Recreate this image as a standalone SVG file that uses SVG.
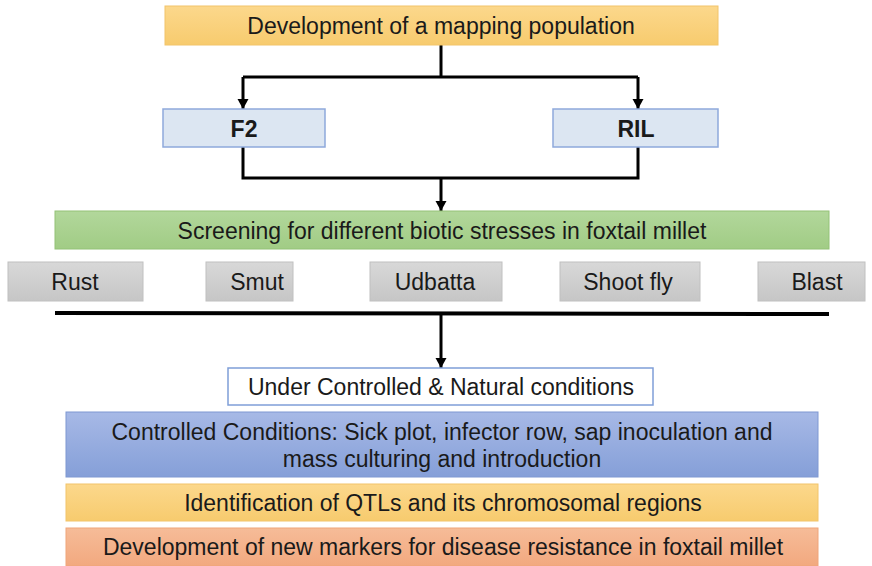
<svg xmlns="http://www.w3.org/2000/svg" width="872" height="566" viewBox="0 0 872 566">
  <defs>
    <linearGradient id="gOrange" x1="0" y1="0" x2="0" y2="1">
      <stop offset="0" stop-color="#FCD88C"/>
      <stop offset="1" stop-color="#F7CB6E"/>
    </linearGradient>
    <linearGradient id="gGreen" x1="0" y1="0" x2="0" y2="1">
      <stop offset="0" stop-color="#B2D79B"/>
      <stop offset="1" stop-color="#A1CC85"/>
    </linearGradient>
    <linearGradient id="gGray" x1="0" y1="0" x2="0" y2="1">
      <stop offset="0" stop-color="#D8D8D8"/>
      <stop offset="1" stop-color="#C6C6C6"/>
    </linearGradient>
    <linearGradient id="gBlue" x1="0" y1="0" x2="0" y2="1">
      <stop offset="0" stop-color="#A7B9E6"/>
      <stop offset="1" stop-color="#859FD8"/>
    </linearGradient>
    <linearGradient id="gSalmon" x1="0" y1="0" x2="0" y2="1">
      <stop offset="0" stop-color="#F6BC98"/>
      <stop offset="1" stop-color="#F2A97F"/>
    </linearGradient>
    <!-- filled triangular arrowhead, about 11px wide and 10px long at stroke 3 -->
    <marker id="arrow" viewBox="0 0 10 11" refX="10" refY="5.5" markerWidth="3.4" markerHeight="3.7" orient="auto" markerUnits="strokeWidth">
      <path d="M0,0 L10,5.5 L0,11 Z" fill="#000"/>
    </marker>
  </defs>
  <style>
    text { font-family: "Liberation Sans", Arial, sans-serif; font-size: 23px; fill: #1a1a1a; text-anchor: middle; dominant-baseline: central; }
    .bold { font-weight: bold; }
    .line { fill: none; stroke: #000; stroke-width: 3; }
    .rule { fill: none; stroke: #000; stroke-width: 4; }
    .orange { fill: url(#gOrange); stroke: #F2C46A; stroke-width: 1; }
    .pop { fill: #DCE6F2; stroke: #8EA9DB; stroke-width: 1.5; }
    .green { fill: url(#gGreen); stroke: #93C277; stroke-width: 1; }
    .gray { fill: url(#gGray); stroke: #C0C0C0; stroke-width: 1; }
    .white { fill: #FFFFFF; stroke: #7F9ED8; stroke-width: 1.5; }
    .blue { fill: url(#gBlue); stroke: #7E98D2; stroke-width: 1; }
    .salmon { fill: url(#gSalmon); stroke: #EFA57B; stroke-width: 1; }
  </style>

  <rect width="872" height="566" fill="#FFFFFF"/>

  <!-- connectors -->
  <g id="connectors">
    <path class="line" d="M441,45 V77"/>
    <path class="line" d="M243,77 H638"/>
    <path class="line" d="M243,77 V109" marker-end="url(#arrow)"/>
    <path class="line" d="M638,77 V109" marker-end="url(#arrow)"/>
    <path class="line" d="M243,147 V178 H638 V147"/>
    <path class="line" d="M441,178 V211" marker-end="url(#arrow)"/>
    <path class="rule" d="M55,313 L829,314"/>
    <path class="line" d="M441,314 V368" marker-end="url(#arrow)"/>
  </g>

  <g id="mapping-population">
    <rect class="orange" x="165" y="6" width="553" height="39"/>
    <text x="441" y="26">Development of a mapping population</text>
  </g>

  <g id="f2">
    <rect class="pop" x="163" y="109" width="162" height="38"/>
    <text class="bold" x="244" y="129">F2</text>
  </g>

  <g id="ril">
    <rect class="pop" x="553" y="109" width="165" height="38"/>
    <text class="bold" x="636" y="129">RIL</text>
  </g>

  <g id="screening">
    <rect class="green" x="55" y="211" width="774" height="38"/>
    <text x="442" y="231">Screening for different biotic stresses in foxtail millet</text>
  </g>

  <g id="rust">
    <rect class="gray" x="8" y="262" width="135" height="39"/>
    <text x="75" y="282">Rust</text>
  </g>
  <g id="smut">
    <rect class="gray" x="206" y="262" width="87" height="39"/>
    <text x="257" y="282">Smut</text>
  </g>
  <g id="udbatta">
    <rect class="gray" x="370" y="262" width="132" height="39"/>
    <text x="435" y="282">Udbatta</text>
  </g>
  <g id="shoot-fly">
    <rect class="gray" x="560" y="262" width="140" height="39"/>
    <text x="628" y="282">Shoot fly</text>
  </g>
  <g id="blast">
    <rect class="gray" x="758" y="262" width="107" height="39"/>
    <text x="817" y="282">Blast</text>
  </g>

  <g id="conditions">
    <rect class="white" x="228" y="368" width="425" height="37"/>
    <text x="441" y="387">Under Controlled &amp; Natural conditions</text>
  </g>

  <g id="controlled">
    <rect class="blue" x="66" y="412" width="752" height="65"/>
    <text x="442" y="432">Controlled Conditions: Sick plot, infector row, sap inoculation and</text>
    <text x="442" y="459">mass culturing and introduction</text>
  </g>

  <g id="qtl">
    <rect class="orange" x="66" y="484" width="752" height="37"/>
    <text x="443" y="503">Identification of QTLs and its chromosomal regions</text>
  </g>

  <g id="markers">
    <rect class="salmon" x="66" y="528" width="752" height="38"/>
    <text x="443" y="547">Development of new markers for disease resistance in foxtail millet</text>
  </g>
</svg>
